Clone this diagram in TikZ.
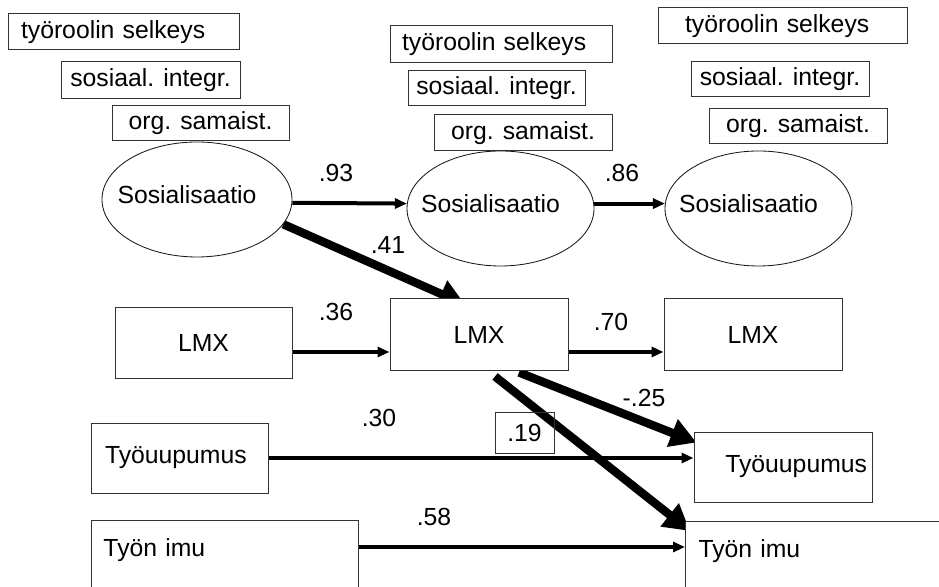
\documentclass[tikz,border=0pt]{standalone}
\usepackage{fontspec}
\setmainfont{Liberation Sans}
\usepackage{tikz}
\usetikzlibrary{shapes.geometric,arrows.meta,backgrounds,positioning}

\begin{document}
\begin{tikzpicture}[
  every node/.style={font=\fontsize{17.6pt}{21pt}\selectfont,text=clab},
  indicator/.style={rectangle,draw=cbox,fill=white,line width=0.7pt,inner ysep=0pt},
  factor/.style={ellipse,draw=cfac,fill=white,line width=0.6pt,inner sep=0pt,minimum width=4.675cm,minimum height=2.875cm,text depth=0.25cm,execute at begin node=\hspace*{-0.5cm}},
  measure/.style={rectangle,draw=cbox,fill=white,line width=0.7pt,inner sep=0pt,minimum width=4.45cm,minimum height=1.75cm},
  coef/.style={inner sep=1pt},
  thinpath/.style={draw=carr,line width=0.1cm,-{Triangle[length=0.3cm,width=0.25cm]}},
  thickpath/.style={draw=carr,line width=0.21cm,-{Triangle[length=0.65cm,width=0.7cm]}}
]
%
\useasboundingbox (0,0) rectangle (23.475,14.675);
%
\definecolor{cbox}{rgb}{0.2,0.2,0.2}
\definecolor{cfac}{rgb}{0.1,0.1,0.1}
\definecolor{clab}{rgb}{0.0,0.0,0.0}
\definecolor{carr}{rgb}{0.0,0.0,0.0}
%
\node[indicator,text width=5.125cm,inner xsep=0.325cm,align=left,minimum height=0.9cm] (rol1) at (3.0875,13.875) {työroolin selkeys};
\node[indicator,inner xsep=0pt,minimum width=4.475cm,minimum height=0.925cm] (int1) at (3.7625,12.6625) {sosiaal. integr.};
\node[indicator,inner xsep=0pt,minimum width=4.425cm,minimum height=0.875cm] (sam1) at (5.0125,11.5875) {org. samaist.};
\node[indicator,text width=4.95cm,inner xsep=0.3cm,align=left,minimum height=0.925cm] (rol2) at (12.525,13.5625) {työroolin selkeys};
\node[indicator,inner xsep=0pt,minimum width=4.425cm,minimum height=0.875cm] (int2) at (12.4125,12.4625) {sosiaal. integr.};
\node[indicator,inner xsep=0pt,minimum width=4.45cm,minimum height=0.9cm] (sam2) at (13.075,11.35) {org. samaist.};
\node[indicator,text width=4.875cm,inner xsep=0.675cm,align=left,minimum height=0.9cm] (rol3) at (19.5625,14.025) {työroolin selkeys};
\node[indicator,inner xsep=0pt,minimum width=4.45cm,minimum height=0.875cm] (int3) at (19.5,12.6875) {sosiaal. integr.};
\node[indicator,inner xsep=0pt,minimum width=4.45cm,minimum height=0.875cm] (sam3) at (19.95,11.5125) {org. samaist.};
%
\node[factor,minimum width=4.75cm] (sos1) at (4.925,9.6875) {Sosialisaatio};
\node[factor] (sos2) at (12.5125,9.4625) {Sosialisaatio};
\node[factor] (sos3) at (18.9625,9.4625) {Sosialisaatio};
%
\node[measure,minimum width=4.425cm] (lmx1) at (5.0875,6.1) {LMX};
\node[measure,minimum height=1.775cm] (lmx2) at (11.975,6.3125) {LMX};
\node[measure,minimum height=1.775cm] (lmx3) at (18.825,6.3125) {LMX};
%
\node[measure,minimum width=4.425cm,text width=3.725cm,inner xsep=0.35cm,align=left] (uup1) at (4.4875,3.225) {Työuupumus};
\node[measure,text width=4.2cm,inner xsep=0.125cm,align=right] (uup2) at (19.575,3.0) {Työuupumus};
\node[measure,anchor=north west,minimum height=1.8cm,text width=6.075cm,text depth=0.43cm,inner xsep=0.3cm,align=left] (imu1) at (2.275,1.675) {Työn imu};
\node[measure,anchor=north west,minimum height=1.8cm,text width=6.85cm,text depth=0.43cm,inner xsep=0.325cm,align=left] (imu2) at (17.125,1.65) {Työn imu};
%
\node[coef] (c93) at (8.4,10.35) {.93};
\node[coef] (c86) at (15.55,10.35) {.86};
\node[coef] (c41) at (9.7,8.55) {.41};
\node[coef] (c36) at (8.4,6.875) {.36};
\node[coef] (c70) at (15.275,6.625) {.70};
\node[coef] (c25) at (16.1,4.725) {-.25};
\node[coef] (c30) at (9.475,4.225) {.30};
\node[coef,draw=cbox,line width=0.7pt,inner sep=0pt,minimum width=1.475cm,minimum height=1.025cm] (c19) at (13.1125,3.8625) {.19};
\node[coef] (c58) at (10.85,1.75) {.58};
%
\begin{scope}[on background layer]
\draw[thinpath] (sos1.-2) -- (sos2.177);
\draw[thinpath] (sos2.3) -- (sos3.177);
\draw[thinpath] ([yshift=-0.225cm]lmx1.east) -- ([yshift=-0.225cm]lmx1.east -| lmx2.west);
\draw[thinpath] ([yshift=-0.4375cm]lmx2.east) -- ([yshift=-0.4375cm]lmx3.west);
\draw[thinpath] (uup1.east) -- (uup1.east -| uup2.west);
\draw[thinpath] ([yshift=-0.675cm]imu1.north east) -- ([yshift=-0.675cm]imu1.north east -| imu2.west);
\draw[thickpath] (sos1.-16) -- ([xshift=-0.35cm,yshift=-0.15cm]lmx2.north);
\draw[thickpath] ([xshift=1cm,yshift=-0.05cm]lmx2.south) -- ([xshift=0.075cm,yshift=-0.275cm]uup2.north west);
\draw[thickpath] ([xshift=0.4cm,yshift=-0.15cm]lmx2.south) -- ([xshift=0.125cm,yshift=-0.25cm]imu2.north west);
\end{scope}
%
\end{tikzpicture}
\end{document}
